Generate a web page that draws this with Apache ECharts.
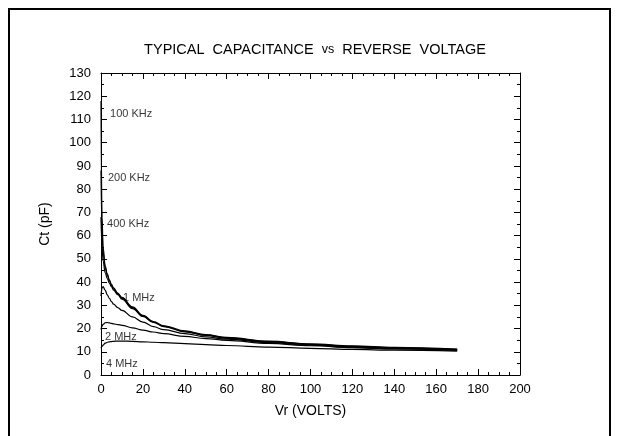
<!DOCTYPE html>
<html><head><meta charset="utf-8">
<script src="https://cdn.jsdelivr.net/npm/echarts@6/dist/echarts.min.js"></script>
<style>html,body{margin:0;padding:0;background:#fff}#c{width:619px;height:436px}</style>
</head><body><div id="c"></div>
<script>
const vr = [0, 0.5, 1, 2, 3, 4, 5, 6, 8, 10, 15, 20, 25, 30, 40, 50, 60, 80, 100, 120, 140, 170];
const c100k = [118, 68, 55, 47, 43.5, 41, 39, 37.5, 35.3, 33.4, 29.3, 25.7, 23, 21.2, 19, 17.4, 16.2, 14.6, 13.4, 12.5, 11.9, 11.2];
const c200k = [88, 63, 53, 46, 43, 40.5, 38.5, 37, 35.0, 33.1, 29.0, 25.5, 22.8, 21, 18.8, 17.2, 16, 14.4, 13.2, 12.3, 11.7, 11.0];
const c400k = [68, 55, 49, 44, 41.5, 39.5, 38, 36.5, 34.6, 32.7, 28.6, 25.2, 22.6, 20.8, 18.6, 17, 15.8, 14.2, 13, 12.1, 11.5, 10.8];
const c1m = [34, 37.5, 38, 36.5, 34.5, 33, 31.6, 30.5, 29, 27.8, 25, 22.8, 20.8, 19.5, 17.8, 16.4, 15.4, 13.9, 12.8, 11.9, 11.3, 10.7];
const c2m = [19.5, 21, 21.8, 22.5, 22.6, 22.4, 22.2, 22, 21.7, 21.4, 20.3, 19.3, 18.5, 17.8, 16.6, 15.7, 14.9, 13.6, 12.6, 11.8, 11.2, 10.6];
const c4m = [11.5, 12.3, 12.9, 13.7, 14.1, 14.3, 14.4, 14.5, 14.6, 14.6, 14.5, 14.3, 14.1, 13.9, 13.5, 13.1, 12.7, 12.0, 11.5, 11.0, 10.7, 10.3];
const curveNames = ['100 KHz', '200 KHz', '400 KHz', '1 MHz', '2 MHz', '4 MHz'];
const labelV = [4.3, 3.3, 2.9, 10.5, 1.9, 2.4];
const labelC = [112.3, 84.8, 65, 33.2, 16.4, 4.7];

const curves = [c100k, c200k, c400k, c1m, c2m, c4m];
const font = 'Liberation Sans, Arial, sans-serif';
const chart = echarts.init(document.getElementById('c'), null, {renderer: 'canvas'});

function axisCommon(extra) {
  return Object.assign({
    axisLine: {show: true, onZero: false, lineStyle: {color: '#000', width: 1}},
    axisTick: {show: true, inside: true, length: 6, lineStyle: {color: '#000'}},
    splitLine: {show: false},
    minorSplitLine: {show: false}
  }, extra);
}

const series = curves.map((d, i) => ({
  type: 'line', xAxisIndex: 0, yAxisIndex: 0,
  data: vr.map((v, j) => [v, d[j]]),
  showSymbol: false, smooth: 0.4, smoothMonotone: 'x',
  lineStyle: {color: '#000', width: 1.2},
  silent: true
}));
series.push({
  type: 'scatter', symbolSize: 0, silent: true,
  data: labelV.map((v, i) => ({value: [v, labelC[i]], name: curveNames[i]})),
  label: {show: true, position: 'right', distance: 0, formatter: p => p.name,
    color: '#000', fontFamily: font, fontSize: 11, align: 'left', verticalAlign: 'middle'}
});

chart.setOption({
  animation: false,
  backgroundColor: '#fff',
  title: {
    text: 'TYPICAL  CAPACITANCE  {s|vs}  REVERSE  VOLTAGE',
    left: 310, top: 37, textAlign: 'center',
    textStyle: {fontFamily: font, fontSize: 14.5, fontWeight: 'normal', color: '#000',
      rich: {s: {fontFamily: font, fontSize: 12.5, color: '#000'}}}
  },
  graphic: [{type: 'rect', shape: {x: 9, y: 9, width: 601, height: 440},
    style: {fill: 'none', stroke: '#000', lineWidth: 2}, silent: true}],
  grid: {left: 101, right: 99, top: 73, bottom: 61},
  xAxis: [
    axisCommon({type: 'value', min: 0, max: 200, interval: 20, position: 'bottom',
      minorTick: {show: true, splitNumber: 4, length: 3, lineStyle: {color: '#000'}},
      name: 'Vr (VOLTS)', nameLocation: 'middle', nameGap: 29,
      nameTextStyle: {fontFamily: font, fontSize: 14, color: '#000'},
      axisLabel: {fontFamily: font, fontSize: 13, color: '#000', margin: 8}}),
    axisCommon({type: 'value', min: 0, max: 200, interval: 20, position: 'top',
      minorTick: {show: true, splitNumber: 4, length: 3, lineStyle: {color: '#000'}},
      axisLabel: {show: false}})
  ],
  yAxis: [
    axisCommon({type: 'value', min: 0, max: 130, interval: 10, position: 'left',
      minorTick: {show: true, splitNumber: 2, length: 3, lineStyle: {color: '#000'}},
      name: 'Ct (pF)', nameLocation: 'middle', nameGap: 49, nameRotate: 90,
      nameTextStyle: {fontFamily: font, fontSize: 14, color: '#000'},
      axisLabel: {fontFamily: font, fontSize: 13, color: '#000', margin: 10}}),
    axisCommon({type: 'value', min: 0, max: 130, interval: 10, position: 'right',
      minorTick: {show: true, splitNumber: 2, length: 3, lineStyle: {color: '#000'}},
      axisLabel: {show: false}})
  ],
  series: series
});
</script></body></html>
